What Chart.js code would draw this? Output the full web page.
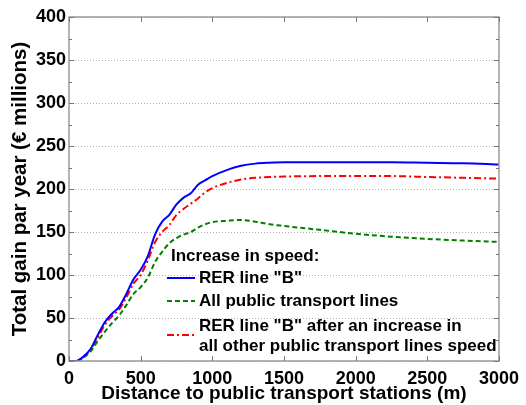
<!DOCTYPE html>
<html>
<head>
<meta charset="utf-8">
<script src="https://cdn.jsdelivr.net/npm/chart.js@4"></script>
<style>
  html, body { margin: 0; padding: 0; background: #fff; }
  #wrap { width: 526px; height: 405px; }
</style>
</head>
<body>
<div id="wrap"><canvas id="gainChart" width="526" height="405"></canvas></div>
<script>
// distance to stations (m)
const distances = [0, 50, 100, 150, 200, 250, 300, 350, 400, 450, 500, 550, 600, 650, 700, 750, 800, 850, 900, 950, 1000, 1100, 1200, 1300, 1400, 1500, 1750, 2000, 2250, 2500, 2750, 3000];
// total gain per year (M€)
const rerB = [0, 0, 5, 14, 30, 45, 55, 63, 78, 95, 106, 122, 147, 162, 170, 182, 190, 195, 205, 210, 215, 222, 227, 229.5, 230.5, 231, 231, 231, 231, 230.5, 230, 228.5];
const allLines = [0, 0, 4, 11, 23, 34, 44, 53, 65, 78, 86, 97, 115, 127, 137, 143, 147, 150, 155, 159, 161.5, 163, 164, 162, 159, 157, 152.5, 148, 144.5, 142, 140, 138.5];
const rerBAfter = [0, 0, 5, 13, 27, 42, 52, 60, 74, 90, 100, 117, 138, 150, 158, 170, 177, 183, 189, 196, 201, 207, 211, 213, 214, 214.5, 215, 215, 215, 214, 213, 212];

const legendTitle = 'Increase in speed:';
const seriesLabels = ['RER line "B"', 'All public transport lines', ['RER line "B" after an increase in', 'all other public transport lines speed']];

const xTicks = [0, 500, 1000, 1500, 2000, 2500, 3000];

const FONT = '"Liberation Sans", Arial, sans-serif';

const toPoints = (vals) => vals.map((v, i) => ({ x: distances[i], y: v }));

const styles = [
  { color: '#0000ff', dash: [] },
  { color: '#008000', dash: [5, 3] },
  { color: '#ff0000', dash: [7, 3, 2, 3] }
];

// box around plot + inward ticks + legend
const framePlugin = {
  id: 'frame',
  afterDraw(chart) {
    const { ctx, chartArea: a, scales: { x, y } } = chart;
    ctx.save();
    ctx.strokeStyle = '#9a9a9a';
    ctx.lineWidth = 1.5;
    ctx.strokeRect(a.left, a.top, a.right - a.left, a.bottom - a.top);
    ctx.lineWidth = 1;
    ctx.strokeStyle = '#777';
    ctx.beginPath();
    xTicks.forEach(v => {
      const px = Math.round(x.getPixelForValue(v)) + 0.5;
      ctx.moveTo(px, a.bottom); ctx.lineTo(px, a.bottom - 5);
      ctx.moveTo(px, a.top); ctx.lineTo(px, a.top + 5);
    });
    for (let v = 0; v <= 400; v += 25) {
      const py = Math.round(y.getPixelForValue(v)) + 0.5;
      const len = v % 50 === 0 ? 5 : 3;
      ctx.moveTo(a.left, py); ctx.lineTo(a.left + len, py);
      ctx.moveTo(a.right, py); ctx.lineTo(a.right - len, py);
    }
    ctx.stroke();

    // legend
    ctx.fillStyle = '#000';
    ctx.font = 'bold 17px ' + FONT;
    ctx.textBaseline = 'middle';
    ctx.textAlign = 'left';
    ctx.fillText(legendTitle, 171, 256);
    const rows = [278, 301, 335];
    seriesLabels.forEach((lab, i) => {
      const ly = rows[i];
      ctx.beginPath();
      ctx.strokeStyle = styles[i].color;
      ctx.lineWidth = 2;
      ctx.setLineDash(styles[i].dash);
      ctx.moveTo(167, ly); ctx.lineTo(195, ly);
      ctx.stroke();
      ctx.setLineDash([]);
      if (Array.isArray(lab)) {
        ctx.fillText(lab[0], 199, ly - 9);
        ctx.fillText(lab[1], 199, ly + 11);
      } else {
        ctx.fillText(lab, 199, ly);
      }
    });
    ctx.restore();
  }
};

const ctx = document.getElementById('gainChart').getContext('2d');
new Chart(ctx, {
  type: 'line',
  data: {
    datasets: [rerB, allLines, rerBAfter].map((vals, i) => ({
      label: Array.isArray(seriesLabels[i]) ? seriesLabels[i].join(' ') : seriesLabels[i],
      data: toPoints(vals),
      borderColor: styles[i].color,
      borderDash: styles[i].dash,
      borderWidth: 2,
      pointRadius: 0,
      fill: false,
      cubicInterpolationMode: 'monotone'
    }))
  },
  options: {
    responsive: false,
    animation: false,
    layout: { padding: { left: 0, top: 17, right: 26, bottom: 0 } },
    plugins: { legend: { display: false }, tooltip: { enabled: false } },
    scales: {
      x: {
        type: 'linear',
        min: 0, max: 3000,
        afterBuildTicks: (s) => { s.ticks = xTicks.map(v => ({ value: v })); },
        afterFit: (s) => { s.height = 44; },
        grid: { display: false, drawTicks: false },
        border: { display: false },
        ticks: {
          color: '#000', padding: 7, maxRotation: 0,
          callback: (v) => String(v),
          font: { family: FONT, size: 18, weight: 'bold' }
        },
        title: {
          display: true,
          text: 'Distance to public transport stations (m)',
          color: '#000',
          padding: { top: 0, bottom: 0 },
          font: { family: FONT, size: 19, weight: 'bold' }
        }
      },
      y: {
        min: 0, max: 400,
        ticks: { stepSize: 50, color: '#000', padding: 3, font: { family: FONT, size: 18, weight: 'bold' } },
        afterFit: (s) => { s.width = 69; },
        grid: { color: '#b0b0b0', lineWidth: 1, drawTicks: false },
        border: { display: false, dash: [1, 2] },
        title: {
          display: true,
          text: 'Total gain par year (€ millions)',
          color: '#000',
          padding: { top: 8, bottom: 0 },
          font: { family: FONT, size: 20.5, weight: 'bold' }
        }
      }
    }
  },
  plugins: [framePlugin]
});
</script>
</body>
</html>
